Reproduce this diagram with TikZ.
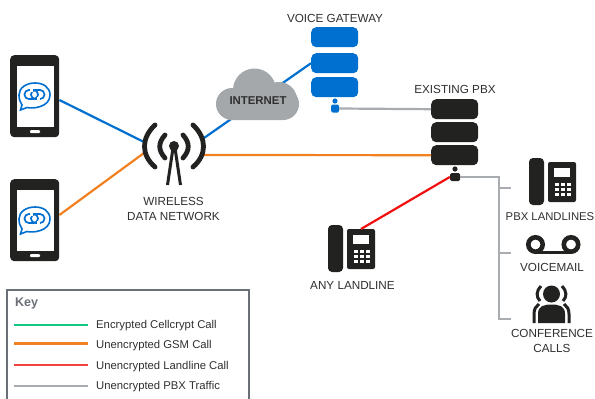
\documentclass[tikz,border=0pt]{standalone}
\usepackage{fontspec}
\setmainfont{Liberation Sans}
\definecolor{ink}{HTML}{222220}
\definecolor{cblue}{HTML}{0070D0}
\definecolor{corange}{HTML}{F08020}
\definecolor{cred}{HTML}{F01010}
\definecolor{cgray}{HTML}{A8ACB0}
\definecolor{cloudgray}{HTML}{A4A8AB}
\definecolor{keygray}{HTML}{6A7076}
\definecolor{cgreen}{HTML}{10C880}
\definecolor{lblack}{HTML}{303030}
\tikzset{
  lbl/.style={font=\fontsize{11.7}{15}\selectfont,text=lblack,align=center,inner sep=0pt},
  keytxt/.style={font=\fontsize{11.3}{13}\selectfont,text=lblack,anchor=west,inner sep=0pt},
  srv/.style={rounded corners=5pt,minimum width=47pt,minimum height=20pt,inner sep=0pt,draw=none},
  wire/.style={line width=2.2pt},
  keyline/.style={line width=2.2pt},
  phonebody/.style={fill=ink,rounded corners=4pt,minimum width=49pt,minimum height=82pt,inner sep=0pt},
}
% #1 name, #2 x, #3 y (top left)
\newcommand{\mobile}[3]{%
  \node[phonebody,anchor=north west] (#1) at (#2,#3) {};
  \begin{scope}[shift={(#2,#3)}]
    \fill[white] (6.5,11) rectangle (43.5,72);
    \fill[white,rounded corners=1pt] (20,75) rectangle (30,78);
    \draw[cblue,line width=1.6pt,fill=white] (12,50) -- (10.5,55) -- (17,52.5)
       .. controls (22,54) and (40,52.5) .. (40,40)
       .. controls (40,32) and (33,28) .. (25,28)
       .. controls (16,28) and (9,33) .. (9,40)
       .. controls (9,44) and (10,47) .. (12,50) -- cycle;
    \draw[cblue,line width=1.7pt,rounded corners=4.4pt] (14.5,35) rectangle (28,44);
    \draw[cblue,line width=1.7pt,rounded corners=4.4pt] (21,35) rectangle (34.5,44);
    \fill[white] (19.5,33.5) rectangle (22.5,37);
    \fill[white] (26.8,42) rectangle (29.5,45.5);
  \end{scope}}
% #1 name, #2 x, #3 y (top left of handset)
\newcommand{\deskphone}[3]{%
  \begin{scope}[shift={(#2,#3)}]
    \fill[ink,rounded corners=4pt] (0,0) rectangle (15,47);
    \fill[ink,rounded corners=2pt] (19,4) rectangle (47,44);
    \fill[white] (25,10) rectangle (41,19);
    \foreach \kx in {26,32,38} \foreach \ky in {25,30,35}
      \fill[white] (\kx,\ky) rectangle +(3.5,3);
    \coordinate (#1) at (33,4);
  \end{scope}}
\begin{document}
\begin{tikzpicture}[x=1pt,y=-1pt]
\useasboundingbox (0,0) rectangle (595,399);
\clip (0,0) rectangle (595,399);
\fill[white] (0,0) rectangle (595,399);

% anchors for lines
\coordinate (ant) at (174,146);
\coordinate (antL1) at (144,142);
\coordinate (antL2) at (144,153);
\coordinate (antR1) at (204,138);
\coordinate (antR2) at (204,155);
\coordinate (bus) at (499,177);
\coordinate (busA) at (499,188);
\coordinate (busB) at (499,253);
\coordinate (busC) at (499,319);
\coordinate (tapA) at (511,188);
\coordinate (tapB) at (511,253);
\coordinate (tapC) at (511,319);

% devices
\mobile{ph1}{10}{55}
\mobile{ph2}{10}{179}
\node[srv,fill=cblue,anchor=north west] (gw1) at (311,27) {};
\node[srv,fill=cblue,anchor=north west] (gw2) at (311,53) {};
\node[srv,fill=cblue,anchor=north west] (gw3) at (311,77) {};
\node[srv,fill=ink,anchor=north west] (pbx1) at (431,99) {};
\node[srv,fill=ink,anchor=north west] (pbx2) at (431,122) {};
\node[srv,fill=ink,anchor=north west] (pbx3) at (431,145) {};
\deskphone{anyphone}{328}{225}
\deskphone{pbxphone}{529}{158}

% connectors
\draw[wire,cblue] (ph1.east |- 0,100) -- (antL1);
\draw[wire,corange] (ph2.east |- 0,215) -- (antL2);
\draw[wire,cblue] (antR1) -- (gw2.west);
\draw[wire,corange] (antR2) -- (pbx3.west);
\node[fill=cblue,rounded corners=1.5pt,minimum size=8pt,inner sep=0pt] (gwport) at (335,108.5) {};
\node[fill=ink,rounded corners=1.5pt,minimum width=10pt,minimum height=8pt,inner sep=0pt] (pbxport) at (455,177) {};
\fill[cblue] (335,101) circle (2.6);
\fill[ink] (455,169) circle (2.6);
\draw[wire,cgray] (gwport.east) -- (pbx1.west);
\draw[wire,cgray] (pbxport.east) -- (bus) -- (busC) -- (tapC);
\draw[wire,cgray] (busA) -- (tapA);
\draw[wire,cgray] (busB) -- (tapB);
\draw[wire,cred] (pbxport.west) -- (anyphone);

% cloud
\begin{scope}
  \fill[cloudgray,rounded corners=16pt] (216,88) rectangle (299,120);
  \fill[cloudgray] (254.5,90) circle (21.5);
  \fill[cloudgray] (279,100) circle (18);
\end{scope}
\node[inner sep=0pt,font=\fontsize{11.4}{13}\selectfont\bfseries,text=lblack] (internet) at (258,101) {INTERNET};

% antenna
\fill[ink] (174,146) circle (5);
\draw[ink,line width=3pt] (173,148) -- (167.5,185);
\draw[ink,line width=3pt] (175,148) -- (180.5,185);
\begin{scope}[ink,line width=4.8pt,line cap=round]
  \draw (165,135) .. controls (158,143) and (158,150) .. (165,158);
  \draw (183,135) .. controls (190,143) and (190,150) .. (183,158);
  \draw (155,125) .. controls (141,138) and (141,155) .. (155,167);
  \draw (193,125) .. controls (207,138) and (207,155) .. (193,167);
\end{scope}

% voicemail
\begin{scope}
  \draw[ink,line width=4.6pt] (535.5,244.5) circle (7.2);
  \draw[ink,line width=4.6pt] (571,244.5) circle (7.2);
  \fill[ink] (535.5,250.5) rectangle (571,254);
\end{scope}

% conference
\begin{scope}
  \fill[ink] (551.5,294) circle (8.5);
  \fill[ink] (538,323) -- (538,314) .. controls (538,306) and (544,304.5) .. (551.5,304.5)
     .. controls (559,304.5) and (565,306) .. (565,314) -- (565,323) -- cycle;
  \draw[ink,line width=3pt] (541,286) .. controls (536,291) and (536,297) .. (540,301);
  \draw[ink,line width=3pt] (562,286) .. controls (567,291) and (567,297) .. (563,301);
  \draw[ink,line width=3pt] (534,323) -- (534,314) .. controls (534,309) and (536,306) .. (539,304);
  \draw[ink,line width=3pt] (569,323) -- (569,314) .. controls (569,309) and (567,306) .. (564,304);
\end{scope}

% labels
\node[lbl] (tgw) at (335,18) {VOICE GATEWAY};
\node[lbl] (tpbx) at (455,89) {EXISTING PBX};
\node[lbl] (tnet) at (173.5,209) {WIRELESS\\DATA NETWORK};
\node[lbl] (tland) at (352.5,285.5) {ANY LANDLINE};
\node[lbl,font=\fontsize{11.3}{15}\selectfont] (tpl) at (550,216.5) {PBX LANDLINES};
\node[lbl] (tvm) at (552,267) {VOICEMAIL};
\node[lbl] (tconf) at (552,341) {CONFERENCE\\CALLS};

% key
\draw[keygray,line width=1.3pt] (7,290) rectangle (249,405);
\node[inner sep=0pt,anchor=west,font=\fontsize{12.5}{14}\selectfont\bfseries,text=keygray] (keyt) at (15,303) {Key};
\node[keytxt] (k1) at (96,325.5) {Encrypted Cellcrypt Call};
\node[keytxt] (k2) at (96,346) {Unencrypted GSM Call};
\node[keytxt] (k3) at (96,366.5) {Unencrypted Landline Call};
\node[keytxt] (k4) at (96,386.5) {Unencrypted PBX Traffic};
\coordinate (s1) at (14,325);\coordinate (s2) at (14,343.5);\coordinate (s3) at (14,365);\coordinate (s4) at (14,386);
\draw[keyline,cgreen] (s1) -- ++(74,0);
\draw[keyline,corange] (s2) -- ++(74,0);
\draw[keyline,cred!80!white] (s3) -- ++(74,0);
\draw[keyline,cgray] (s4) -- ++(74,0);
\end{tikzpicture}
\end{document}
